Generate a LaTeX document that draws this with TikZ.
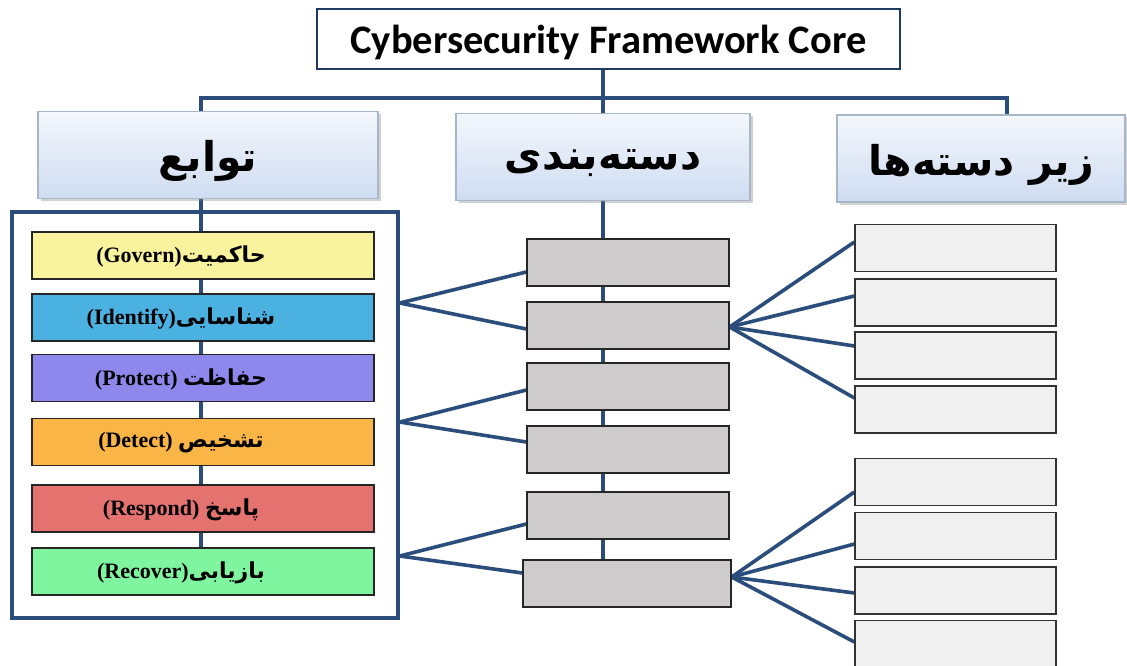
\documentclass[tikz,border=0pt]{standalone}
\usepackage{fontspec}
\setmainfont{Liberation Serif}
\newfontfamily\titlefont{Carlito}
\newfontfamily\fafont[Script=Arabic]{DejaVu Sans}
\TeXXeTstate=1
\usetikzlibrary{calc,shadows}
\pgfdeclarelayer{paper}
\pgfdeclarelayer{links}
\pgfsetlayers{paper,links,main}
\definecolor{navy}{HTML}{2B4D7C}
\definecolor{titleline}{HTML}{1F3A63}
\definecolor{hdrtop}{HTML}{F4F7FC}
\definecolor{hdrbot}{HTML}{CFDCF1}
\definecolor{hdrline}{HTML}{A8B6CA}
\definecolor{govc}{HTML}{F8F39C}
\definecolor{idc}{HTML}{4AB1E1}
\definecolor{prc}{HTML}{8F88EC}
\definecolor{dec}{HTML}{F9B545}
\definecolor{rsc}{HTML}{E4726F}
\definecolor{rcc}{HTML}{7FF59F}
\definecolor{catfill}{HTML}{CDCBCB}
\definecolor{subfill}{HTML}{F0F0F0}
\newcommand\fa[1]{{\fafont\beginR #1\endR}}
% lower the ink while keeping the box dimensions used for centring
\newcommand\lowered[2]{\raisebox{-#1}[\height][\depth]{#2}}
\newcommand\hdrtext[1]{\lowered{6pt}{\fa{#1}}}
\tikzset{
  conn/.style={draw=navy, line width=3.6pt},
  titlebox/.style={draw=titleline, line width=2.4pt, fill=white, inner sep=0pt,
    minimum width=583pt, minimum height=60pt,
    font=\titlefont\bfseries\fontsize{40.5}{46}\selectfont},
  hdrbox/.style={draw=hdrline, line width=1.2pt, top color=hdrtop, bottom color=hdrbot,
    inner sep=0pt, minimum height=87pt,
    drop shadow={shadow xshift=2.5pt, shadow yshift=-2.5pt, opacity=0.35},
    font=\fafont\bfseries\fontsize{41}{46}\selectfont},
  fnbox/.style={draw=black!85, line width=1.3pt, inner sep=0pt,
    minimum width=342pt, minimum height=47pt},
  fntext/.style={label={[font=\bfseries\fontsize{22}{26}\selectfont,
    xshift=-22pt, yshift=-1pt]center:#1}},
  catbox/.style={draw=black!85, line width=1.3pt, fill=catfill, inner sep=0pt,
    minimum width=202pt, minimum height=47pt},
  subbox/.style={draw=black!80, line width=1.3pt, fill=subfill, inner sep=0pt,
    minimum width=201pt, minimum height=47pt},
}
\begin{document}
\begin{tikzpicture}[x=1pt,y=-1pt]
\begin{pgfonlayer}{paper}
\fill[white] (0,0) rectangle (1127,666);
\end{pgfonlayer}
\useasboundingbox (0,0) rectangle (1127,666);

% spine positions and the bar level
\coordinate (spineL) at (201,98);
\coordinate (spineC) at (603,98);
\coordinate (spineR) at (1007,98);

% title and the three column headers
\node[titlebox] (title) at (608.5,39) {\lowered{3pt}{Cybersecurity Framework Core}};
\node[hdrbox, minimum width=340pt] (funH) at (208,155) {\hdrtext{توابع}};
\node[hdrbox, minimum width=294pt] (catH) at (603,157) {\hdrtext{دسته‌بندی}};
\node[hdrbox, minimum width=288pt] (subH) at (981,158.5) {\hdrtext{زیر دسته‌ها}};

% frame around the functions
\node[draw=navy, line width=3.6pt, minimum width=386pt, minimum height=406pt,
  inner sep=0pt] (frame) at (205,415) {};

% function boxes
\node[fnbox, fill=govc, fntext={(Govern)\fa{حاکمیت}}]   (gov) at (203,255.5) {};
\node[fnbox, fill=idc,  fntext={(Identify)\fa{شناسایی}}] (idf) at (203,317.5) {};
\node[fnbox, fill=prc,  fntext={(Protect) \fa{حفاظت}}]   (prt) at (203,378)   {};
\node[fnbox, fill=dec,  fntext={(Detect) \fa{تشخیص}}]    (det) at (203,442)   {};
\node[fnbox, fill=rsc,  fntext={(Respond) \fa{پاسخ}}]    (rsp) at (203,508.5) {};
\node[fnbox, fill=rcc,  fntext={(Recover)\fa{بازیابی}}]  (rcv) at (203,571.5) {};

% category boxes
\node[catbox] (c1) at (628,262.5) {};
\node[catbox] (c2) at (628,325.5) {};
\node[catbox] (c3) at (628,386.5) {};
\node[catbox] (c4) at (628,449.5) {};
\node[catbox] (c5) at (628,515.5) {};
\node[catbox, minimum width=208pt] (c6) at (627,583.5) {};

% subcategory boxes
\node[subbox] (s1) at (955.5,248) {};
\node[subbox] (s2) at (955.5,302.5) {};
\node[subbox] (s3) at (955.5,355.5) {};
\node[subbox] (s4) at (955.5,409.5) {};
\node[subbox] (s5) at (955.5,482) {};
\node[subbox] (s6) at (955.5,536) {};
\node[subbox] (s7) at (955.5,590.5) {};
\node[subbox] (s8) at (955.5,644) {};

% fan origins
\coordinate (f1) at ($(frame.east)+(0,-112)$);
\coordinate (f2) at ($(frame.east)+(0,7)$);
\coordinate (f3) at ($(frame.east)+(0,141)$);
\coordinate (g2) at ($(c2.east)+(0,1.5)$);
\coordinate (g6) at ($(c6.east)+(0,-6.5)$);

% connectors, kept beneath the boxes
\begin{pgfonlayer}{links}
\draw[conn] (title.south -| spineC) -- (spineC);
\draw[conn] (funH.north -| spineL) -- (spineL) -- (spineR) -- (subH.north -| spineR);
\draw[conn] (spineC) -- (catH.north -| spineC);

\draw[conn] (funH.south -| spineL) -- (rcv.north -| spineL);
\draw[conn] (catH.south -| spineC) -- (c6.north -| spineC);

\draw[conn] (f1) -- ($(c1.west)+(0,9.5)$);
\draw[conn] (f1) -- ($(c2.west)+(0,3.5)$);
\draw[conn] (f2) -- ($(c3.west)+(0,3.5)$);
\draw[conn] (f2) -- ($(c4.west)+(0,-7.5)$);
\draw[conn] (f3) -- ($(c5.west)+(0,8.5)$);
\draw[conn] (f3) -- ($(c6.west)+(0,-10.5)$);

\draw[conn] (g2) -- ($(s1.west)+(0,-6)$);
\draw[conn] (g2) -- ($(s2.west)+(0,-6.5)$);
\draw[conn] (g2) -- ($(s3.west)+(0,-9.5)$);
\draw[conn] (g2) -- ($(s4.west)+(0,-11.5)$);
\draw[conn] (g6) -- ($(s5.west)+(0,10)$);
\draw[conn] (g6) -- ($(s6.west)+(0,8)$);
\draw[conn] (g6) -- ($(s7.west)+(0,2.5)$);
\draw[conn] (g6) -- ($(s8.west)+(0,-2)$);
\end{pgfonlayer}
\end{tikzpicture}
\end{document}
